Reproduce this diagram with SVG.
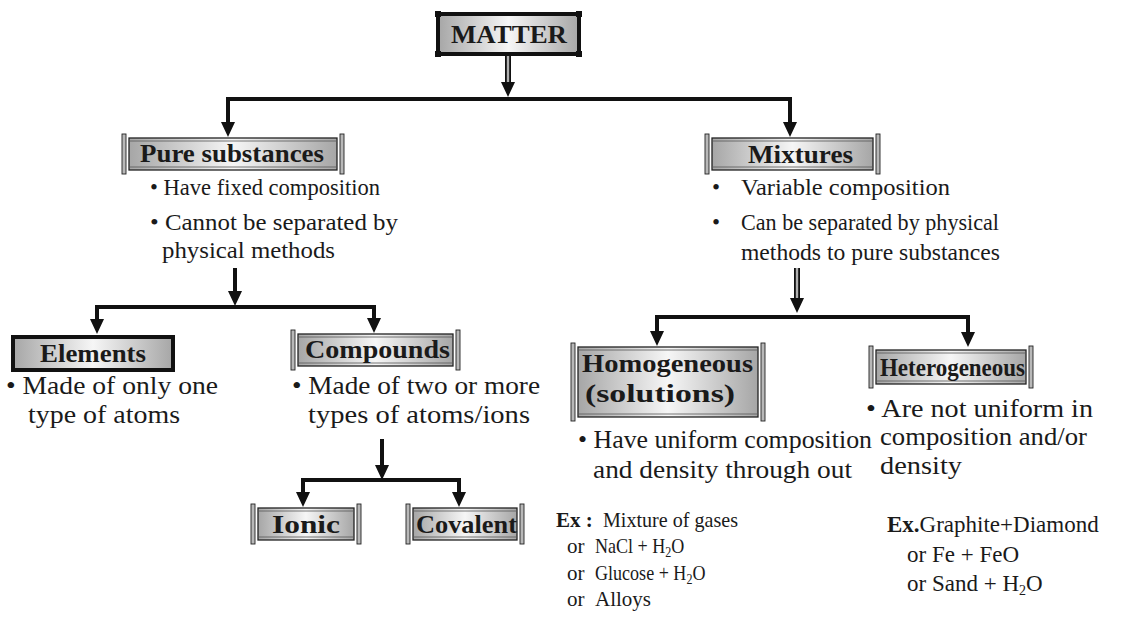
<svg xmlns="http://www.w3.org/2000/svg" xmlns:xlink="http://www.w3.org/1999/xlink" width="1139" height="626" viewBox="0 0 1139 626">
<style>
.lbl{font-family:'Liberation Serif','Times New Roman',Times,serif;font-weight:bold;font-size:26px;fill:#1a1a1a}
.txt{font-family:'Liberation Serif','Times New Roman',Times,serif;font-size:23px;fill:#1a1a1a}
.txt2{font-family:'Liberation Serif','Times New Roman',Times,serif;font-size:26px;fill:#1a1a1a}
.ex{font-family:'Liberation Serif','Times New Roman',Times,serif;font-size:21px;fill:#1a1a1a}
.ex2{font-family:'Liberation Serif','Times New Roman',Times,serif;font-size:23px;fill:#1a1a1a}
.b{font-weight:bold}
.sub{font-size:14px}
.box{fill:url(#g);stroke:#222;stroke-width:1.3}
.inl{stroke:#555;stroke-width:0.8;fill:none}
.bar{fill:#b8b8b8;stroke:#222;stroke-width:0.9}
.thick{fill:url(#g);stroke:#111;stroke-width:4}
.conn{fill:none;stroke:#111;stroke-width:4}
.hol{stroke:#111;stroke-width:6}
.holi{stroke:#b0b0b0;stroke-width:2.4}
.ah{fill:#111}
</style>
<defs>
<linearGradient id="g" x1="0" y1="0" x2="1" y2="0">
<stop offset="0" stop-color="#a6a6a6"/>
<stop offset="0.5" stop-color="#f6f6f6"/>
<stop offset="1" stop-color="#a6a6a6"/>
</linearGradient>
<path id="ahd" class="ah" d="M-7,-15 L7,-15 L0,0 z"/>
</defs>

<g id="connectors">
<line class="hol" x1="508" y1="54" x2="508" y2="84"/>
<line class="holi" x1="508" y1="55" x2="508" y2="84"/>
<use xlink:href="#ahd" x="508" y="97"/>
<path class="conn" d="M228,124 V99 H790 V124"/>
<use xlink:href="#ahd" x="228" y="137"/>
<use xlink:href="#ahd" x="790" y="137"/>

<line class="conn" x1="235" y1="268" x2="235" y2="293"/>
<use xlink:href="#ahd" x="235" y="306"/>
<path class="conn" d="M97,321 V307 H374 V321"/>
<use xlink:href="#ahd" x="97" y="334"/>
<use xlink:href="#ahd" x="374" y="333"/>

<line class="conn" x1="382" y1="439" x2="382" y2="467"/>
<use xlink:href="#ahd" x="382" y="480"/>
<path class="conn" d="M303,494 V480 H459 V494"/>
<use xlink:href="#ahd" x="303" y="507"/>
<use xlink:href="#ahd" x="459" y="507"/>

<line class="hol" x1="797" y1="268" x2="797" y2="300"/>
<line class="holi" x1="797" y1="268" x2="797" y2="300"/>
<use xlink:href="#ahd" x="797" y="313"/>
<path class="conn" d="M657,333 V317 H968 V333"/>
<use xlink:href="#ahd" x="657" y="346"/>
<use xlink:href="#ahd" x="968" y="347"/>
</g>

<g id="matter">
<rect class="thick" x="438" y="14" width="141" height="40"/>
<rect x="435" y="11" width="6" height="6" fill="#111"/>
<rect x="576" y="11" width="6" height="6" fill="#111"/>
<rect x="435" y="51" width="6" height="6" fill="#111"/>
<rect x="576" y="51" width="6" height="6" fill="#111"/>
<text class="lbl" x="451" y="43" textLength="116" lengthAdjust="spacingAndGlyphs">MATTER</text>
</g>

<g id="pure">
<rect class="box" x="129" y="138" width="208" height="32"/>
<line class="inl" x1="129" y1="141" x2="337" y2="141"/>
<line class="inl" x1="129" y1="167" x2="337" y2="167"/>
<rect class="bar" x="122" y="134" width="4" height="40"/>
<rect class="bar" x="340" y="134" width="4" height="40"/>
<text class="lbl" x="140" y="162" textLength="184" lengthAdjust="spacingAndGlyphs">Pure substances</text>
<text class="txt" x="150" y="195" textLength="230" lengthAdjust="spacingAndGlyphs">• Have fixed composition</text>
<text class="txt" x="150" y="230" textLength="248" lengthAdjust="spacingAndGlyphs">• Cannot be separated by</text>
<text class="txt" x="162" y="258" textLength="173" lengthAdjust="spacingAndGlyphs">physical methods</text>
</g>

<g id="mixtures">
<rect class="box" x="712" y="138" width="161" height="32"/>
<line class="inl" x1="712" y1="141" x2="873" y2="141"/>
<line class="inl" x1="712" y1="167" x2="873" y2="167"/>
<rect class="bar" x="705" y="134" width="4" height="40"/>
<rect class="bar" x="876" y="134" width="4" height="40"/>
<text class="lbl" x="748" y="163" textLength="105" lengthAdjust="spacingAndGlyphs">Mixtures</text>
<text class="txt" x="712" y="195">•</text>
<text class="txt" x="741" y="195" textLength="209" lengthAdjust="spacingAndGlyphs">Variable composition</text>
<text class="txt" x="712" y="230">•</text>
<text class="txt" x="741" y="230" textLength="258" lengthAdjust="spacingAndGlyphs">Can be separated by physical</text>
<text class="txt" x="741" y="260" textLength="259" lengthAdjust="spacingAndGlyphs">methods to pure substances</text>
</g>

<g id="elements">
<rect class="thick" x="13" y="337" width="160" height="33"/>
<text class="lbl" x="40" y="362" textLength="106" lengthAdjust="spacingAndGlyphs">Elements</text>
<text class="txt2" x="6" y="394" textLength="212" lengthAdjust="spacingAndGlyphs">• Made of only one</text>
<text class="txt2" x="28" y="423" textLength="152" lengthAdjust="spacingAndGlyphs">type of atoms</text>
</g>

<g id="compounds">
<rect class="box" x="298" y="334" width="155" height="32"/>
<line class="inl" x1="298" y1="337" x2="453" y2="337"/>
<line class="inl" x1="298" y1="363" x2="453" y2="363"/>
<rect class="bar" x="291" y="330" width="4" height="40"/>
<rect class="bar" x="456" y="330" width="4" height="40"/>
<text class="lbl" x="305" y="358" textLength="145" lengthAdjust="spacingAndGlyphs">Compounds</text>
<text class="txt2" x="292" y="394" textLength="248" lengthAdjust="spacingAndGlyphs">• Made of two or more</text>
<text class="txt2" x="308" y="423" textLength="222" lengthAdjust="spacingAndGlyphs">types of atoms/ions</text>
</g>

<g id="ionic">
<rect class="box" x="258" y="508" width="96" height="32"/>
<line class="inl" x1="258" y1="511" x2="354" y2="511"/>
<line class="inl" x1="258" y1="537" x2="354" y2="537"/>
<rect class="bar" x="251" y="504" width="4" height="40"/>
<rect class="bar" x="357" y="504" width="4" height="40"/>
<text class="lbl" x="272" y="533" textLength="68" lengthAdjust="spacingAndGlyphs">Ionic</text>
</g>

<g id="covalent">
<rect class="box" x="413" y="508" width="104" height="32"/>
<line class="inl" x1="413" y1="511" x2="517" y2="511"/>
<line class="inl" x1="413" y1="537" x2="517" y2="537"/>
<rect class="bar" x="406" y="504" width="4" height="40"/>
<rect class="bar" x="520" y="504" width="4" height="40"/>
<text class="lbl" x="416" y="533" textLength="101" lengthAdjust="spacingAndGlyphs">Covalent</text>
</g>

<g id="homogeneous">
<rect class="box" x="578" y="347" width="180" height="70"/>
<line class="inl" x1="578" y1="350" x2="758" y2="350"/>
<line class="inl" x1="578" y1="414" x2="758" y2="414"/>
<rect class="bar" x="571" y="343" width="4" height="78"/>
<rect class="bar" x="761" y="343" width="4" height="78"/>
<text class="lbl" x="582" y="372" textLength="171" lengthAdjust="spacingAndGlyphs">Homogeneous</text>
<text class="lbl" x="585" y="402" textLength="150" lengthAdjust="spacingAndGlyphs">(solutions)</text>
<text class="txt2" x="578" y="448" textLength="294" lengthAdjust="spacingAndGlyphs">• Have uniform composition</text>
<text class="txt2" x="593" y="478" textLength="259" lengthAdjust="spacingAndGlyphs">and density through out</text>
<text class="ex b" x="556" y="527">Ex :</text>
<text class="ex" x="603" y="527" textLength="135" lengthAdjust="spacingAndGlyphs">Mixture of gases</text>
<text class="ex" x="567" y="553">or</text>
<text class="ex" x="567" y="580">or</text>
<text class="ex" x="567" y="606">or</text>
<g transform="translate(595,0) scale(0.86,1) translate(-595,0)">
<text class="ex" x="595" y="553">NaCl + H<tspan class="sub" dy="4">2</tspan><tspan dy="-4">O</tspan></text>
<text class="ex" x="595" y="580">Glucose + H<tspan class="sub" dy="4">2</tspan><tspan dy="-4">O</tspan></text>
</g>
<text class="ex" x="595" y="606">Alloys</text>
</g>

<g id="heterogeneous">
<rect class="box" x="876" y="350" width="150" height="34"/>
<line class="inl" x1="876" y1="353" x2="1026" y2="353"/>
<line class="inl" x1="876" y1="381" x2="1026" y2="381"/>
<rect class="bar" x="869" y="346" width="4" height="42"/>
<rect class="bar" x="1029" y="346" width="4" height="42"/>
<text class="lbl" x="880" y="376" textLength="145" lengthAdjust="spacingAndGlyphs">Heterogeneous</text>
<text class="txt2" x="866" y="417" textLength="227" lengthAdjust="spacingAndGlyphs">• Are not uniform in</text>
<text class="txt2" x="880" y="445" textLength="207" lengthAdjust="spacingAndGlyphs">composition and/or</text>
<text class="txt2" x="880" y="474" textLength="82" lengthAdjust="spacingAndGlyphs">density</text>
<text class="ex2" x="887" y="532"><tspan class="b">Ex.</tspan>Graphite+Diamond</text>
<text class="ex2" x="907" y="562">or Fe + FeO</text>
<text class="ex2" x="907" y="591">or Sand + H<tspan class="sub" dy="4">2</tspan><tspan dy="-4">O</tspan></text>
</g>
</svg>
